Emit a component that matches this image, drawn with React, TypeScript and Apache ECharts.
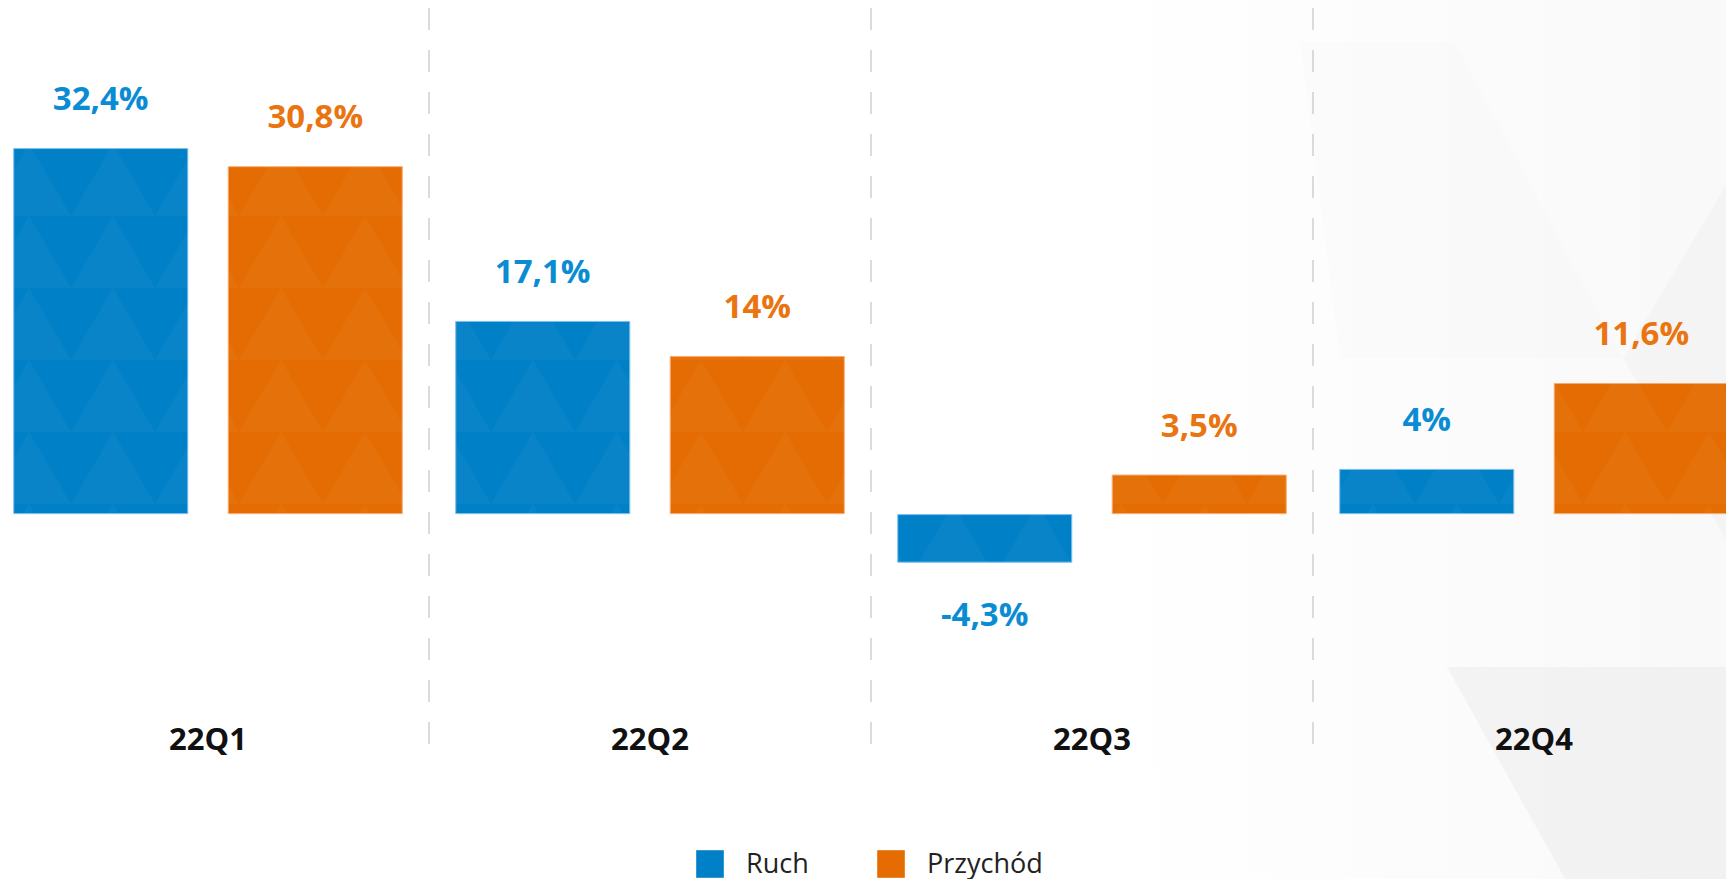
import React, { useEffect, useRef } from "react";
import * as echarts from "echarts";

const categories = ["22Q1", "22Q2", "22Q3", "22Q4"];
const ruch = [32.4, 17.1, -4.3, 4];
const przychod = [30.8, 14, 3.5, 11.6];
const seriesNames = ["Ruch", "Przychód"];

const BLUE = "#0080c6";
const ORANGE = "#e46c02";
const BLUE_LABEL = "#0a8cd4";
const ORANGE_LABEL = "#ea7410";
const FONT = "'Open Sans', 'DejaVu Sans', sans-serif";
const SHIFT = 13; // chart canvas starts 13px left of the page

const fmt = (v: number) => String(v).replace(".", ",") + "%";

const makeData = (vals: number[], labelColor: string) =>
  vals.map((v) => ({
    value: v,
    label: {
      show: true,
      position: v < 0 ? "bottom" : "top",
      distance: 34,
      formatter: () => fmt(v),
      color: labelColor,
      fontSize: 33,
      fontWeight: 700,
      fontFamily: FONT,
    },
  }));

const pts = (arr: number[][]) => arr.map(([x, y]) => [x + SHIFT, y]);

export default function App() {
  const ref = useRef<HTMLDivElement>(null);
  useEffect(() => {
    if (!ref.current) return;
    const chart = echarts.init(ref.current, undefined, { renderer: "svg" });
    const decal = {
      symbol: "triangle",
      symbolSize: 1,
      dashArrayX: [[84, 0]],
      dashArrayY: [72, 0],
      color: "rgba(255,255,255,0.035)",
    };
    const legendItems = [
      { name: seriesNames[0], color: BLUE, x: 696, tx: 746 },
      { name: seriesNames[1], color: ORANGE, x: 877, tx: 927 },
    ];
    const legendGraphics: any[] = [];
    legendItems.forEach((it) => {
      legendGraphics.push({
        type: "rect",
        shape: { x: it.x + SHIFT, y: 850, width: 28, height: 28 },
        style: { fill: it.color, stroke: "rgba(255,255,255,0.4)", lineWidth: 1 },
      });
      legendGraphics.push({
        type: "text",
        x: it.tx + SHIFT,
        y: 862,
        style: {
          text: it.name,
          fill: "#222",
          font: `27px ${FONT}`,
          verticalAlign: "middle",
          align: "left",
        },
      });
    });
    const option = {
      animation: false,
      backgroundColor: "#ffffff",
      graphic: [
        {
          type: "polygon",
          z: -10,
          shape: { points: pts([[1100, 0], [1726, 0], [1726, 879], [1160, 879]]) },
          style: {
            fill: new echarts.graphic.LinearGradient(0, 0, 1, 0, [
              { offset: 0, color: "rgba(0,0,0,0)" },
              { offset: 1, color: "rgba(0,0,0,0.025)" },
            ]),
          },
        },
        {
          type: "polygon",
          z: -9,
          shape: { points: pts([[1726, 185], [1623, 358], [1726, 540]]) },
          style: { fill: "rgba(0,0,0,0.02)" },
        },
        {
          type: "polygon",
          z: -9,
          shape: { points: pts([[1300, 42], [1455, 42], [1623, 358], [1340, 358]]) },
          style: { fill: "rgba(0,0,0,0.008)" },
        },
        {
          type: "polygon",
          z: -9,
          shape: { points: pts([[1447, 667], [1726, 667], [1726, 879], [1565, 879]]) },
          style: { fill: "rgba(0,0,0,0.03)" },
        },
        ...legendGraphics,
      ],
      grid: { left: 0, right: 0, top: 8, bottom: 122, containLabel: false },
      xAxis: {
        type: "category",
        data: categories,
        axisLine: { show: false },
        axisTick: { show: false },
        splitLine: {
          show: true,
          interval: 0,
          lineStyle: { type: [22, 20], color: "#cfcfcf", width: 1.5 },
        },
        axisLabel: {
          inside: true,
          margin: 4,
          fontSize: 31,
          fontWeight: 700,
          color: "#111",
          fontFamily: FONT,
        },
      },
      yAxis: { type: "value", min: -21.5, max: 44.8, show: false },
      series: [
        {
          name: seriesNames[0],
          type: "bar",
          barWidth: 175,
          barGap: "22.6%",
          itemStyle: {
            color: BLUE,
            borderColor: "rgba(120,190,240,0.6)",
            borderWidth: 1,
            decal,
          },
          data: makeData(ruch, BLUE_LABEL),
        },
        {
          name: seriesNames[1],
          type: "bar",
          barWidth: 175,
          itemStyle: {
            color: ORANGE,
            borderColor: "rgba(250,170,110,0.6)",
            borderWidth: 1,
            decal,
          },
          data: makeData(przychod, ORANGE_LABEL),
        },
      ],
    };
    chart.setOption(option as any);
    return () => chart.dispose();
  }, []);
  return (
    <div
      style={{
        position: "absolute",
        left: 0,
        top: 0,
        width: 1726,
        height: 879,
        overflow: "hidden",
      }}
    >
      <div
        ref={ref}
        style={{ position: "absolute", left: -SHIFT, top: 0, width: 1726 + SHIFT + 29, height: 879 }}
      />
    </div>
  );
}
